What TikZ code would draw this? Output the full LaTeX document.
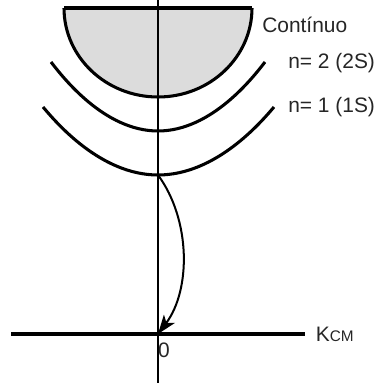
\documentclass[tikz,border=0pt]{standalone}
\usepackage{fontspec}
\setmainfont{Liberation Sans}
\usetikzlibrary{arrows.meta, positioning}
\definecolor{contgray}{HTML}{DCDCDC}

\begin{document}
\begin{tikzpicture}[
    x=0.75pt, y=0.75pt,
    every node/.style={font=\fontsize{15.7}{18}\selectfont, text=black!85, inner sep=0pt},
    level/.style={line width=2.3pt},
    axis/.style={line width=1.5pt},
    kaxis/.style={line width=3pt},
    arr/.style={-{Stealth[length=5mm, width=3.6mm, inset=1.3mm]}, line width=1.5pt}
]
    \useasboundingbox (0,0) rectangle (380,385);

    % continuum
    \coordinate (contL) at (64,377);
    \coordinate (contR) at (252,377);
    \fill[contgray] (contL) arc[start angle=180, end angle=360, x radius=94, y radius=89] -- cycle;
    \draw[level] (contL) arc[start angle=180, end angle=360, x radius=94, y radius=89];
    \draw[level] (contL) -- (contR);

    % bound levels
    \coordinate (twoL) at (51,323);
    \coordinate (twoB) at (158,254);
    \coordinate (twoR) at (265,323);
    \coordinate (oneL) at (43,278);
    \coordinate (oneB) at (158,210);
    \coordinate (oneR) at (274,278);
    \draw[level] (twoL) parabola bend (twoB) (twoR);
    \draw[level] (oneL) parabola bend (oneB) (oneR);

    % axes
    \coordinate (vtop) at (158,385);
    \coordinate (vbot) at (158,2);
    \coordinate (kleft) at (11,51);
    \coordinate (kright) at (305,51);
    \coordinate (origin) at (158,51);
    \draw[axis] (vtop) -- (vbot);
    \draw[kaxis] (kleft) -- (kright);

    % transition
    \draw[arr] (oneB) .. controls (191,165) and (191,95) .. (origin);

    % labels
    \node[anchor=west] (cont) at (262,360) {Contínuo};
    \node[anchor=west] (ntwo) at (288,322) {n= 2 (2S)};
    \node[anchor=west] (none) at (288,278) {n= 1 (1S)};
    \node[right=8pt of kright] (kcm) {K{\fontsize{11.5}{14}\selectfont CM}};
    \node (zero) at (164,35) {0};
\end{tikzpicture}
\end{document}
